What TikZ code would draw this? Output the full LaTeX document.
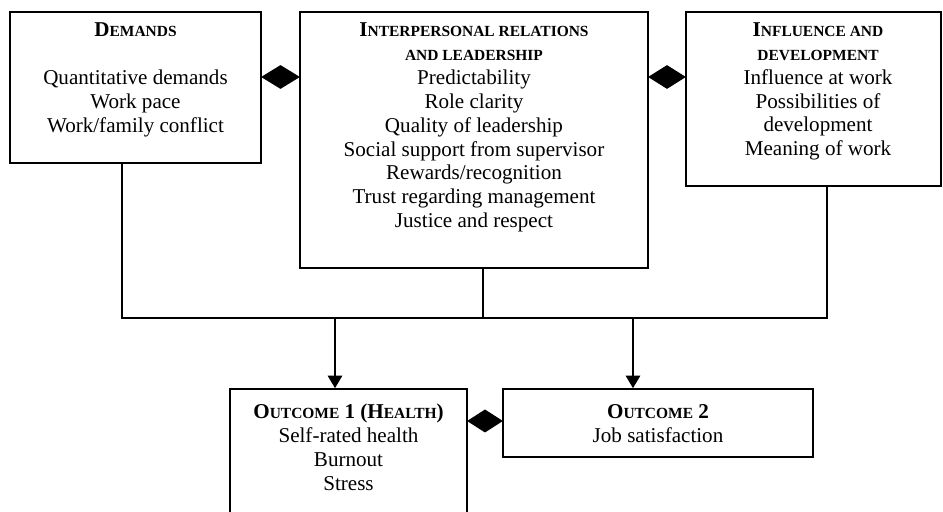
\documentclass[tikz,border=0pt]{standalone}
\usepackage{fontspec}
\setmainfont{Liberation Serif}
\usetikzlibrary{shapes.geometric,arrows.meta,positioning}
\newcommand{\lowcaps}[1]{{\fontsize{11}{17}\selectfont #1}}

\begin{document}
\begin{tikzpicture}[
  box/.style={draw, line width=1pt, inner sep=0pt},
  txt/.style={align=center, inner sep=0pt, font=\fontsize{15}{17}\selectfont},
  link/.style={diamond, fill=black, draw=none, inner sep=0pt},
  wire/.style={line width=2pt},
  arr/.style={line width=2pt, -{Triangle[width=10pt,length=9pt]}}
]
  \clip (0,0) rectangle (23.575,12.8);
  \useasboundingbox (0,0) rectangle (23.575,12.8);

  % boxes
  \node[box, minimum width=6.275cm, minimum height=3.775cm] (dem) at (3.3875,10.6125) {};
  \node[box, minimum width=8.7cm, minimum height=6.4cm] (ipr) at (11.85,9.3) {};
  \node[box, minimum width=6.375cm, minimum height=4.35cm] (inf) at (20.3375,10.325) {};
  \node[box, minimum width=5.925cm, minimum height=4cm] (out1) at (8.7125,1.075) {};
  \node[box, minimum width=7.75cm, minimum height=1.7cm] (out2) at (16.45,2.225) {};

  % texts
  \node[txt] (demtxt) at (3.3875,10.8) {\textbf{D\lowcaps{EMANDS}}\\[17pt]
    Quantitative demands\\ Work pace\\ Work/family conflict};
  \node[txt] (iprtxt) at (11.85,9.6125) {\textbf{I\lowcaps{NTERPERSONAL RELATIONS}}\\
    \textbf{\lowcaps{AND LEADERSHIP}}\\ Predictability\\ Role clarity\\
    Quality of leadership\\ Social support from supervisor\\ Rewards/recognition\\
    Trust regarding management\\ Justice and respect};
  \node[txt] (inftxt) at (20.45,10.5125) {\textbf{I\lowcaps{NFLUENCE AND}}\\
    \textbf{\lowcaps{DEVELOPMENT}}\\ Influence at work\\ Possibilities of\\
    development\\ Meaning of work};
  \node[txt] (o1txt) at (8.7125,1.625) {\textbf{O\lowcaps{UTCOME} 1 (H\lowcaps{EALTH})}\\
    Self-rated health\\ Burnout\\ Stress};
  \node[txt] (o2txt) at (16.45,2.2125) {\textbf{O\lowcaps{UTCOME} 2}\\ Job satisfaction};

  % diamonds
  \node[link, minimum width=0.975cm, minimum height=0.6cm] (lnkA) at (7.0125,10.875) {};
  \node[link, minimum width=0.95cm, minimum height=0.6cm] (lnkB) at (16.675,10.875) {};
  \node[link, minimum width=0.9cm, minimum height=0.58cm] (lnkC) at (12.125,2.275) {};

  % connectors
  \coordinate (busL) at (3.05,4.85);
  \coordinate (busM) at (12.075,4.85);
  \coordinate (busR) at (20.675,4.85);
  \coordinate (dropA) at (8.375,4.85);
  \coordinate (dropB) at (15.825,4.85);
  \draw[wire] (dem.south -| busL) -- (busL) -- (busR) -- (inf.south -| busR);
  \draw[wire] (ipr.south -| busM) -- (busM);
  \draw[arr] (dropA) -- (out1.north -| dropA);
  \draw[arr] (dropB) -- (out2.north -| dropB);
\end{tikzpicture}
\end{document}
